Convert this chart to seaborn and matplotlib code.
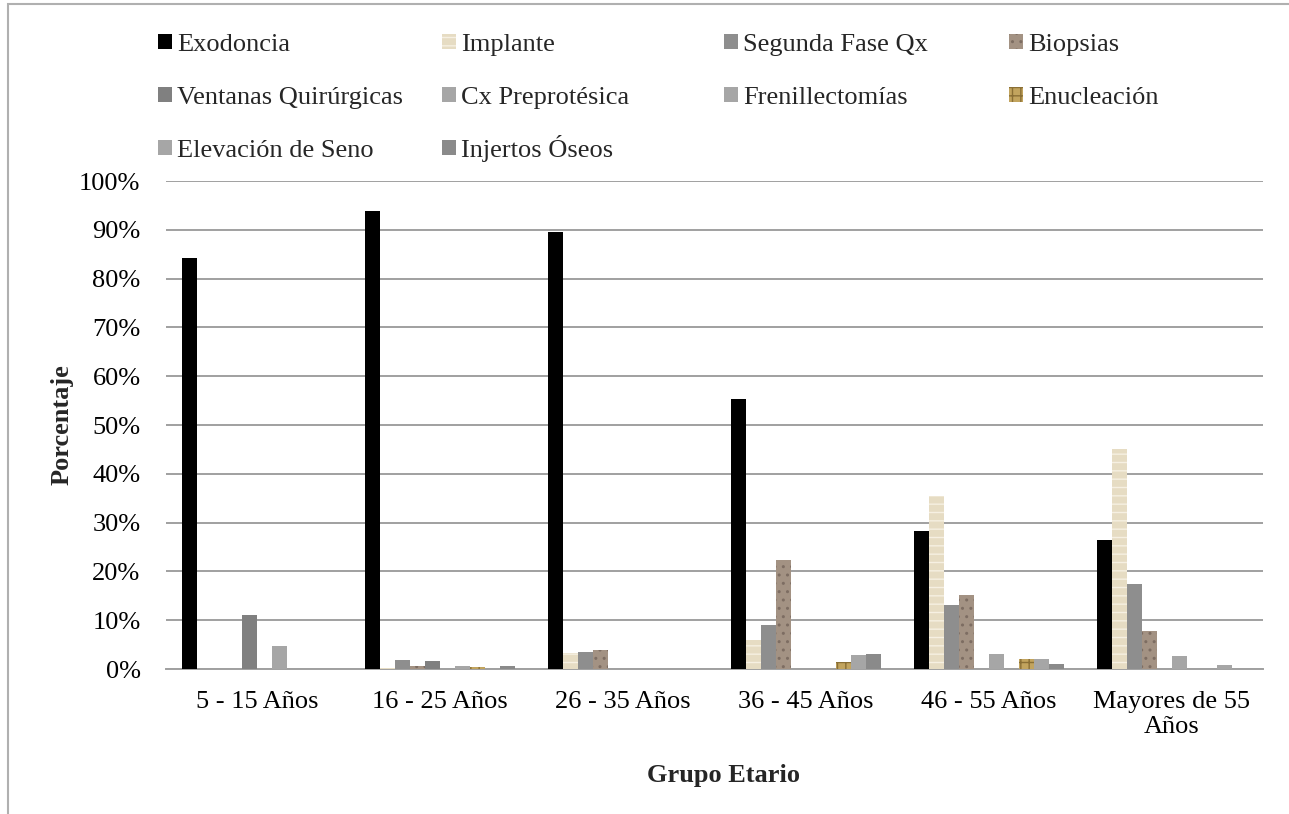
import matplotlib
matplotlib.use("Agg")
import matplotlib.pyplot as plt
from matplotlib.patches import Patch, Rectangle
from matplotlib.ticker import FuncFormatter
import seaborn as sns
import pandas as pd

grupos = ["5 - 15 Años", "16 - 25 Años", "26 - 35 Años", "36 - 45 Años",
          "46 - 55 Años", "Mayores de 55\nAños"]

procedimientos = ["Exodoncia", "Implante", "Segunda Fase Qx", "Biopsias",
                  "Ventanas Quirúrgicas", "Cx Preprotésica", "Frenillectomías",
                  "Enucleación", "Elevación de Seno", "Injertos Óseos"]

exodoncia = [84.2, 93.8, 89.5, 55.3, 28.3, 26.5]
implante = [0.0, 0.3, 3.2, 6.0, 35.5, 45.0]
segunda_fase = [0.0, 1.9, 3.4, 9.0, 13.1, 17.5]
biopsias = [0.0, 0.6, 3.9, 22.4, 15.2, 7.8]
ventanas = [11.1, 1.6, 0.0, 0.0, 0.0, 0.0]
cx_preprotesica = [0.0, 0.0, 0.0, 0.0, 3.1, 2.7]
frenillectomias = [4.7, 0.6, 0.0, 0.0, 0.0, 0.0]
enucleacion = [0.0, 0.4, 0.0, 1.4, 2.0, 0.0]
elevacion_seno = [0.0, 0.0, 0.0, 2.9, 2.0, 0.8]
injertos = [0.0, 0.6, 0.0, 3.1, 1.0, 0.0]

series = [exodoncia, implante, segunda_fase, biopsias, ventanas,
          cx_preprotesica, frenillectomias, enucleacion, elevacion_seno, injertos]

colores = ["#000000", "#e6dcc3", "#8e8e8e", "#a39283", "#808080",
           "#a6a6a6", "#a6a6a6", "#c2a45e", "#a6a6a6", "#8a8a8a"]
tramas = [None, "--", None, "..", None, None, None, "++", None, None]
color_trama = [None, "#f6f0e2", None, "#7d6d62", None, None, None, "#8a6f35", None, None]

rows = []
for proc, vals in zip(procedimientos, series):
    for g, v in zip(grupos, vals):
        rows.append({"Grupo": g, "Procedimiento": proc, "Porcentaje": v})
df = pd.DataFrame(rows)

sns.set_theme(style="white")
plt.rcParams["font.family"] = ["Liberation Serif", "DejaVu Serif"]
plt.rcParams["hatch.linewidth"] = 1.0

FS = 19

fig = plt.figure(figsize=(12.89, 8.14), dpi=100)
ax = fig.add_axes([165.5 / 1289, 1 - 669 / 814, (1263 - 165.5) / 1289, (669 - 181) / 814])

sns.barplot(data=df, x="Grupo", y="Porcentaje", hue="Procedimiento",
            order=grupos, hue_order=procedimientos, palette=colores,
            width=0.82, gap=0, dodge=True, legend=False, errorbar=None,
            saturation=1, ax=ax, zorder=3)

for cont, trama, ctr in zip(ax.containers, tramas, color_trama):
    for bar in cont:
        bar.set_linewidth(0)
        if trama:
            bar.set_hatch(trama)
            bar.set_edgecolor(ctr)

ax.set_ylim(0, 100)
ax.set_yticks(range(0, 101, 10))
ax.yaxis.set_major_formatter(FuncFormatter(lambda v, p: f"{int(v)}%"))
ax.grid(axis="y", color="#a0a0a0", linewidth=1.4, zorder=0)
ax.set_axisbelow(True)
for s in ["top", "right", "left"]:
    ax.spines[s].set_visible(False)
ax.spines["bottom"].set_color("#a0a0a0")
ax.spines["bottom"].set_linewidth(1.4)
ax.tick_params(axis="both", length=0, labelsize=FS, colors="#000000")
ax.tick_params(axis="y", pad=18)
ax.tick_params(axis="x", pad=15.5)
ax.set_xlabel("Grupo Etario", fontsize=FS, fontweight="bold")
ax.set_ylabel("Porcentaje", fontsize=FS, fontweight="bold")
ax.xaxis.set_label_coords(0.508, -0.194)
ax.yaxis.set_label_coords(-0.084, 0.5)

# legend: four columns filled row by row; each entry is anchored on its
# own baseline so that accented capitals do not shift a row
columnas_x = [158, 442, 724, 1009]
filas_y = [56, 109, 162]
for i, proc in enumerate(procedimientos):
    fila, col = divmod(i, 4)
    handle = Patch(facecolor=colores[i], edgecolor=color_trama[i] or colores[i],
                   hatch=tramas[i], linewidth=0)
    fig.legend([handle], [proc], loc="lower left",
               bbox_to_anchor=(columnas_x[col] / 1289, 1 - filas_y[fila] / 814),
               frameon=False, fontsize=FS, handlelength=0.53,
               handleheight=0.53, handletextpad=0.19,
               borderpad=0, borderaxespad=0)

fig.add_artist(Rectangle((8 / 1289, -0.1), 1.2, 1.1 - 4 / 814,
                         transform=fig.transFigure, fill=False,
                         edgecolor="#b0b0b0", linewidth=1.5))

fig.savefig("out.png", dpi=100)
